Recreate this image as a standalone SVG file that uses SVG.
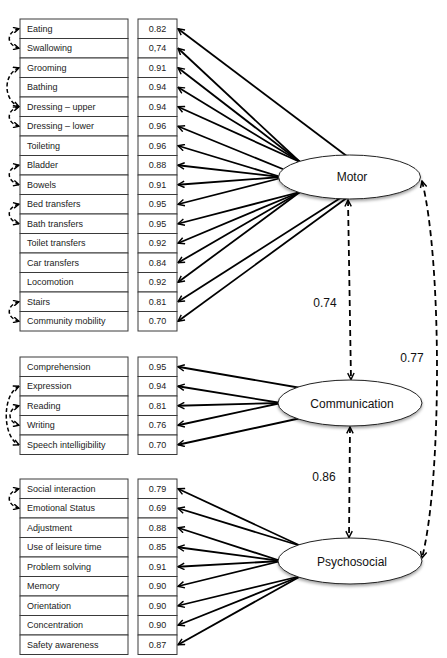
<svg xmlns="http://www.w3.org/2000/svg" width="447" height="658" viewBox="0 0 447 658">
<style>
.box{fill:#fff;stroke:#3a3a3a;stroke-width:1}
.lbl{font-family:"Liberation Sans",Arial,sans-serif;font-size:9px;fill:#222}
.val{font-family:"Liberation Sans",Arial,sans-serif;font-size:9px;fill:#222;text-anchor:middle}
.ell{fill:#fff;stroke:#222;stroke-width:1;filter:url(#sh)}
.etx{font-family:"Liberation Sans",Arial,sans-serif;font-size:12px;fill:#111;text-anchor:middle}
.num{font-family:"Liberation Sans",Arial,sans-serif;font-size:12px;fill:#111;text-anchor:middle}
.ld{fill:none;stroke:#000;stroke-width:1.8;marker-end:url(#ah)}
.cv{fill:none;stroke:#000;stroke-width:1.8;stroke-dasharray:6,4;marker-start:url(#ah);marker-end:url(#ah)}
.sc{fill:none;stroke:#000;stroke-width:1.5;stroke-dasharray:4,2.5;marker-start:url(#as);marker-end:url(#as)}
</style>
<defs>
<marker id="ah" viewBox="0 0 10 10" refX="9" refY="5" markerWidth="8" markerHeight="8" markerUnits="userSpaceOnUse" orient="auto-start-reverse">
<path d="M1,1 L9,5 L1,9" fill="none" stroke="#000" stroke-width="1.8"/>
</marker>
<marker id="as" viewBox="0 0 10 10" refX="9" refY="5" markerWidth="7" markerHeight="7" markerUnits="userSpaceOnUse" orient="auto-start-reverse">
<path d="M1,1 L9,5 L1,9" fill="none" stroke="#000" stroke-width="2"/>
</marker>
<filter id="sh" x="-10%" y="-20%" width="120%" height="150%">
<feDropShadow dx="0" dy="2" stdDeviation="1.5" flood-color="#000" flood-opacity="0.35"/>
</filter>
</defs>
<rect width="447" height="658" fill="#fff"/>

<g id="connectors">
<!-- Motor loadings -->
<line class="ld" x1="348" y1="157" x2="178" y2="28.75"/>
<line class="ld" x1="300" y1="162" x2="178" y2="48.25"/>
<line class="ld" x1="300" y1="162" x2="178" y2="67.75"/>
<line class="ld" x1="300" y1="162" x2="178" y2="87.25"/>
<line class="ld" x1="300" y1="162" x2="178" y2="106.75"/>
<line class="ld" x1="290" y1="172" x2="178" y2="126.25"/>
<line class="ld" x1="281" y1="177" x2="178" y2="145.75"/>
<line class="ld" x1="281" y1="177" x2="178" y2="165.25"/>
<line class="ld" x1="281" y1="177" x2="178" y2="184.75"/>
<line class="ld" x1="281" y1="178" x2="178" y2="204.25"/>
<line class="ld" x1="300" y1="192" x2="178" y2="223.75"/>
<line class="ld" x1="300" y1="192" x2="178" y2="243.25"/>
<line class="ld" x1="300" y1="192" x2="178" y2="262.75"/>
<line class="ld" x1="300" y1="192" x2="178" y2="282.25"/>
<line class="ld" x1="342" y1="197" x2="178" y2="301.75"/>
<line class="ld" x1="348" y1="197" x2="178" y2="321.25"/>
<!-- Communication loadings -->
<line class="ld" x1="301" y1="388" x2="178" y2="366.75"/>
<line class="ld" x1="281" y1="403" x2="178" y2="386.25"/>
<line class="ld" x1="281" y1="403" x2="178" y2="405.75"/>
<line class="ld" x1="281" y1="403" x2="178" y2="425.25"/>
<line class="ld" x1="301" y1="418" x2="178" y2="444.75"/>
<!-- Psychosocial loadings -->
<line class="ld" x1="301" y1="546" x2="178" y2="488.75"/>
<line class="ld" x1="301" y1="546" x2="178" y2="508.25"/>
<line class="ld" x1="281" y1="561" x2="178" y2="527.75"/>
<line class="ld" x1="281" y1="561" x2="178" y2="547.25"/>
<line class="ld" x1="281" y1="561" x2="178" y2="566.75"/>
<line class="ld" x1="281" y1="561" x2="178" y2="586.25"/>
<line class="ld" x1="301" y1="576" x2="178" y2="605.75"/>
<line class="ld" x1="301" y1="576" x2="178" y2="625.25"/>
<line class="ld" x1="301" y1="576" x2="178" y2="644.75"/>
<!-- factor correlations -->
<path class="cv" d="M348,200 L351,379.5"/>
<path class="cv" d="M350,427 L349,537.5"/>
<path class="cv" d="M422,181 C442,260 442,480 422,558"/>
<!-- residual covariances -->
<path class="sc" d="M19,28.75 C6,32 6,45 19,48.25"/>
<path class="sc" d="M19,67.75 C3,74 3,100 19,106.75"/>
<path class="sc" d="M19,106.75 C6,110 6,123 19,126.25"/>
<path class="sc" d="M19,165.25 C6,168 6,181 19,184.75"/>
<path class="sc" d="M19,204.25 C6,207 6,220 19,223.75"/>
<path class="sc" d="M19,301.75 C6,305 6,318 19,321.25"/>
<path class="sc" d="M19,386.25 C2,394 2,437 19,444.75"/>
<path class="sc" d="M19,405.75 C7,409 7,422 19,425.25"/>
<path class="sc" d="M19,488.75 C6,492 6,505 19,508.25"/>
<text class="num" x="325" y="307">0.74</text>
<text class="num" x="324" y="481">0.86</text>
<text class="num" x="412" y="362">0.77</text>
</g>

<g id="motor-items">
<rect class="box" x="20" y="19" width="108" height="19.5"/><text class="lbl" x="27" y="31.75">Eating</text>
<rect class="box" x="20" y="38.5" width="108" height="19.5"/><text class="lbl" x="27" y="51.25">Swallowing</text>
<rect class="box" x="20" y="58" width="108" height="19.5"/><text class="lbl" x="27" y="70.75">Grooming</text>
<rect class="box" x="20" y="77.5" width="108" height="19.5"/><text class="lbl" x="27" y="90.25">Bathing</text>
<rect class="box" x="20" y="97" width="108" height="19.5"/><text class="lbl" x="27" y="109.5" font-size="8">Dressing – upper</text>
<rect class="box" x="20" y="116.5" width="108" height="19.5"/><text class="lbl" x="27" y="129.1" font-size="8.5">Dressing – lower</text>
<rect class="box" x="20" y="136" width="108" height="19.5"/><text class="lbl" x="27" y="148.75">Toileting</text>
<rect class="box" x="20" y="155.5" width="108" height="19.5"/><text class="lbl" x="27" y="168.25">Bladder</text>
<rect class="box" x="20" y="175" width="108" height="19.5"/><text class="lbl" x="27" y="187.75">Bowels</text>
<rect class="box" x="20" y="194.5" width="108" height="19.5"/><text class="lbl" x="27" y="207.25">Bed transfers</text>
<rect class="box" x="20" y="214" width="108" height="19.5"/><text class="lbl" x="27" y="226.75">Bath transfers</text>
<rect class="box" x="20" y="233.5" width="108" height="19.5"/><text class="lbl" x="27" y="246.25">Toilet transfers</text>
<rect class="box" x="20" y="253" width="108" height="19.5"/><text class="lbl" x="27" y="265.75">Car transfers</text>
<rect class="box" x="20" y="272.5" width="108" height="19.5"/><text class="lbl" x="27" y="285.25">Locomotion</text>
<rect class="box" x="20" y="292" width="108" height="19.5"/><text class="lbl" x="27" y="304.75">Stairs</text>
<rect class="box" x="20" y="311.5" width="108" height="19.5"/><text class="lbl" x="27" y="324.25">Community mobility</text>
</g>
<g id="motor-values">
<rect class="box" x="138" y="19" width="39" height="19.5"/><text class="val" x="157.5" y="31.75">0.82</text>
<rect class="box" x="138" y="38.5" width="39" height="19.5"/><text class="val" x="157.5" y="51.25">0,74</text>
<rect class="box" x="138" y="58" width="39" height="19.5"/><text class="val" x="157.5" y="70.75">0.91</text>
<rect class="box" x="138" y="77.5" width="39" height="19.5"/><text class="val" x="157.5" y="90.25">0.94</text>
<rect class="box" x="138" y="97" width="39" height="19.5"/><text class="val" x="157.5" y="109.75">0.94</text>
<rect class="box" x="138" y="116.5" width="39" height="19.5"/><text class="val" x="157.5" y="129.25">0.96</text>
<rect class="box" x="138" y="136" width="39" height="19.5"/><text class="val" x="157.5" y="148.75">0.96</text>
<rect class="box" x="138" y="155.5" width="39" height="19.5"/><text class="val" x="157.5" y="168.25">0.88</text>
<rect class="box" x="138" y="175" width="39" height="19.5"/><text class="val" x="157.5" y="187.75">0.91</text>
<rect class="box" x="138" y="194.5" width="39" height="19.5"/><text class="val" x="157.5" y="207.25">0.95</text>
<rect class="box" x="138" y="214" width="39" height="19.5"/><text class="val" x="157.5" y="226.75">0.95</text>
<rect class="box" x="138" y="233.5" width="39" height="19.5"/><text class="val" x="157.5" y="246.25">0.92</text>
<rect class="box" x="138" y="253" width="39" height="19.5"/><text class="val" x="157.5" y="265.75">0.84</text>
<rect class="box" x="138" y="272.5" width="39" height="19.5"/><text class="val" x="157.5" y="285.25">0.92</text>
<rect class="box" x="138" y="292" width="39" height="19.5"/><text class="val" x="157.5" y="304.75">0.81</text>
<rect class="box" x="138" y="311.5" width="39" height="19.5"/><text class="val" x="157.5" y="324.25">0.70</text>
</g>

<g id="communication-items">
<rect class="box" x="20" y="357" width="108" height="19.5"/><text class="lbl" x="27" y="369.75">Comprehension</text>
<rect class="box" x="20" y="376.5" width="108" height="19.5"/><text class="lbl" x="27" y="389" font-size="8">Expression</text>
<rect class="box" x="20" y="396" width="108" height="19.5"/><text class="lbl" x="27" y="408.75">Reading</text>
<rect class="box" x="20" y="415.5" width="108" height="19.5"/><text class="lbl" x="27" y="428.25">Writing</text>
<rect class="box" x="20" y="435" width="108" height="19.5"/><text class="lbl" x="27" y="447.75">Speech intelligibility</text>
</g>
<g id="communication-values">
<rect class="box" x="138" y="357" width="39" height="19.5"/><text class="val" x="157.5" y="369.75">0.95</text>
<rect class="box" x="138" y="376.5" width="39" height="19.5"/><text class="val" x="157.5" y="389.25">0.94</text>
<rect class="box" x="138" y="396" width="39" height="19.5"/><text class="val" x="157.5" y="408.75">0.81</text>
<rect class="box" x="138" y="415.5" width="39" height="19.5"/><text class="val" x="157.5" y="428.25">0.76</text>
<rect class="box" x="138" y="435" width="39" height="19.5"/><text class="val" x="157.5" y="447.75">0.70</text>
</g>

<g id="psychosocial-items">
<rect class="box" x="20" y="479" width="108" height="19.5"/><text class="lbl" x="27" y="491.5" font-size="8">Social interaction</text>
<rect class="box" x="20" y="498.5" width="108" height="19.5"/><text class="lbl" x="27" y="511.25">Emotional Status</text>
<rect class="box" x="20" y="518" width="108" height="19.5"/><text class="lbl" x="27" y="530.75">Adjustment</text>
<rect class="box" x="20" y="537.5" width="108" height="19.5"/><text class="lbl" x="27" y="550.25">Use of leisure time</text>
<rect class="box" x="20" y="557" width="108" height="19.5"/><text class="lbl" x="27" y="569.75">Problem solving</text>
<rect class="box" x="20" y="576.5" width="108" height="19.5"/><text class="lbl" x="27" y="589.25">Memory</text>
<rect class="box" x="20" y="596" width="108" height="19.5"/><text class="lbl" x="27" y="608.75">Orientation</text>
<rect class="box" x="20" y="615.5" width="108" height="19.5"/><text class="lbl" x="27" y="628.25">Concentration</text>
<rect class="box" x="20" y="635" width="108" height="19.5"/><text class="lbl" x="27" y="647.75">Safety awareness</text>
</g>
<g id="psychosocial-values">
<rect class="box" x="138" y="479" width="39" height="19.5"/><text class="val" x="157.5" y="491.75">0.79</text>
<rect class="box" x="138" y="498.5" width="39" height="19.5"/><text class="val" x="157.5" y="511.25">0.69</text>
<rect class="box" x="138" y="518" width="39" height="19.5"/><text class="val" x="157.5" y="530.75">0.88</text>
<rect class="box" x="138" y="537.5" width="39" height="19.5"/><text class="val" x="157.5" y="550.25">0.85</text>
<rect class="box" x="138" y="557" width="39" height="19.5"/><text class="val" x="157.5" y="569.75">0.91</text>
<rect class="box" x="138" y="576.5" width="39" height="19.5"/><text class="val" x="157.5" y="589.25">0.90</text>
<rect class="box" x="138" y="596" width="39" height="19.5"/><text class="val" x="157.5" y="608.75">0.90</text>
<rect class="box" x="138" y="615.5" width="39" height="19.5"/><text class="val" x="157.5" y="628.25">0.90</text>
<rect class="box" x="138" y="635" width="39" height="19.5"/><text class="val" x="157.5" y="647.75">0.87</text>
</g>

<g id="motor">
<ellipse class="ell" cx="349.5" cy="177" rx="71" ry="22"/>
<text class="etx" x="352" y="181">Motor</text>
</g>
<g id="communication">
<ellipse class="ell" cx="350" cy="403" rx="72" ry="23"/>
<text class="etx" x="352" y="407.5">Communication</text>
</g>
<g id="psychosocial">
<ellipse class="ell" cx="350" cy="561" rx="72" ry="23"/>
<text class="etx" x="352" y="565.5">Psychosocial</text>
</g>
</svg>
